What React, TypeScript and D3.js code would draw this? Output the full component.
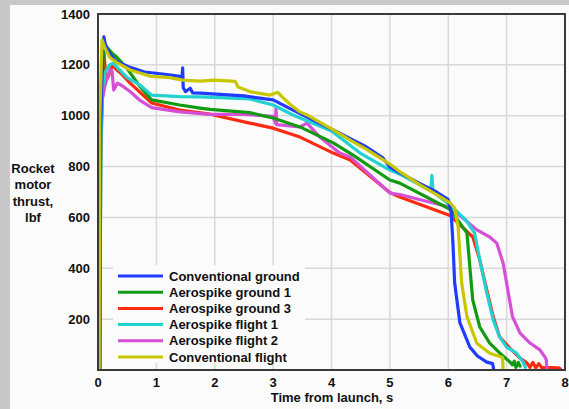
import React from "react";
import * as d3 from "d3";

const W = 569;
const H = 409;

const xTicks = [0, 1, 2, 3, 4, 5, 6, 7, 8];
const yTicks = [200, 400, 600, 800, 1000, 1200, 1400];
const yGrid = [0, 200, 400, 600, 800, 1000, 1200, 1400];

const seriesNames = [
  "Conventional ground",
  "Aerospike ground 1",
  "Aerospike ground 3",
  "Aerospike flight 1",
  "Aerospike flight 2",
  "Conventional flight",
];
const seriesColors = ["#1f3cff", "#139a13", "#ff2a12", "#20d2d2", "#d64fd8", "#c8c800"];

const convGroundT = [0.03, 0.04, 0.08, 0.1, 0.13, 0.2, 0.3, 0.55, 0.8, 1.18, 1.4, 1.44, 1.45, 1.46, 1.5, 1.58, 1.62, 1.75, 2.5, 3.0, 3.34, 4.03, 4.6, 4.88, 5.0, 5.17, 5.5, 5.8, 6.0, 6.05, 6.08, 6.11, 6.2, 6.37, 6.5, 6.66, 6.76, 6.78];
const convGroundV = [0, 900, 1250, 1310, 1275, 1245, 1215, 1190, 1172, 1162, 1155, 1152, 1188, 1110, 1095, 1108, 1090, 1089, 1078, 1062, 1022, 944, 877, 834, 798, 775, 735, 700, 670, 620, 500, 342, 185, 90, 55, 31, 25, 0];

const aeroGround1T = [0.03, 0.05, 0.1, 0.15, 0.24, 0.3, 0.5, 0.7, 0.92, 1.4, 1.75, 1.92, 2.6, 3.0, 3.46, 4.03, 4.37, 5.0, 5.17, 6.03, 6.32, 6.37, 6.42, 6.54, 6.71, 6.88, 7.05, 7.1, 7.13, 7.16, 7.2, 7.23];
const aeroGround1V = [0, 1000, 1290, 1270, 1246, 1235, 1185, 1120, 1062, 1042, 1030, 1025, 1012, 991, 956, 893, 845, 747, 735, 632, 539, 405, 275, 169, 106, 67, 33, 20, 35, 10, 30, 15];

const aeroGround3T = [0.02, 0.04, 0.1, 0.13, 0.17, 0.25, 0.3, 0.4, 0.55, 0.92, 1.4, 1.92, 2.6, 3.0, 3.46, 4.03, 4.32, 5.0, 5.17, 6.03, 6.42, 6.54, 6.66, 6.77, 6.88, 7.05, 7.23, 7.35, 7.4, 7.45, 7.5, 7.55, 7.6, 7.9, 7.92];
const aeroGround3V = [0, 800, 1258, 1160, 1150, 1200, 1185, 1165, 1128, 1050, 1022, 1006, 971, 951, 916, 853, 826, 698, 680, 608, 523, 433, 315, 210, 130, 87, 47, 27, 10, 30, 8, 25, 10, 8, 5];

const aeroFlight1T = [0.03, 0.05, 0.07, 0.12, 0.2, 0.26, 0.35, 0.5, 0.72, 0.92, 1.4, 1.75, 2.6, 3.0, 3.34, 4.0, 4.49, 5.0, 5.17, 5.7, 5.72, 5.74, 6.03, 6.2, 6.3, 6.45, 6.54, 6.66, 6.77, 6.88, 7.0, 7.17, 7.28, 7.32];
const aeroFlight1V = [0, 900, 1100, 1170, 1200, 1207, 1185, 1150, 1120, 1081, 1075, 1074, 1066, 1042, 1003, 940, 853, 786, 770, 705, 765, 700, 649, 612, 590, 539, 433, 303, 197, 130, 90, 66, 33, 10];

const aeroFlight2T = [0.03, 0.05, 0.07, 0.12, 0.2, 0.24, 0.27, 0.33, 0.4, 0.55, 0.72, 0.92, 1.4, 1.92, 2.5, 3.0, 3.04, 3.05, 3.06, 3.46, 3.58, 3.8, 4.14, 4.32, 5.0, 5.17, 6.03, 6.49, 6.71, 6.83, 6.94, 7.02, 7.1, 7.23, 7.4, 7.57, 7.65, 7.68, 7.69];
const aeroFlight2V = [0, 1000, 1060, 1120, 1180, 1175, 1101, 1128, 1120, 1095, 1060, 1032, 1015, 1005, 1005, 998, 970, 1030, 965, 956, 971, 916, 853, 838, 696, 690, 640, 551, 523, 499, 421, 315, 210, 145, 106, 79, 53, 40, 0];

const convFlightT = [0.02, 0.03, 0.07, 0.12, 0.2, 0.3, 0.55, 0.9, 1.23, 1.45, 1.75, 2.0, 2.35, 2.4, 2.6, 2.95, 3.08, 3.15, 3.29, 3.46, 3.58, 4.03, 4.32, 4.6, 5.0, 5.17, 5.5, 5.8, 6.03, 6.11, 6.17, 6.23, 6.32, 6.49, 6.71, 6.88, 6.93, 6.94];
const convFlightV = [0, 1000, 1298, 1265, 1230, 1212, 1180, 1155, 1150, 1140, 1136, 1140, 1135, 1113, 1095, 1081, 1092, 1075, 1045, 1015, 1003, 944, 904, 868, 810, 780, 730, 690, 657, 637, 562, 342, 210, 105, 66, 53, 50, 0];

const seriesT = [convGroundT, aeroGround1T, aeroGround3T, aeroFlight1T, aeroFlight2T, convFlightT];
const seriesV = [convGroundV, aeroGround1V, aeroGround3V, aeroFlight1V, aeroFlight2V, convFlightV];
const drawOrder = [2, 4, 1, 3, 0, 5];

const left = 98, right = 565, top = 14, bottom = 370;
const font = "'Liberation Sans', Arial, Helvetica, sans-serif";

export default function App() {
  const x = d3.scaleLinear().domain([0, 8]).range([left, right]);
  const y = d3.scaleLinear().domain([0, 1400]).range([bottom, top]);
  const line = d3
    .line<[number, number]>()
    .x((d) => x(d[0]))
    .y((d) => y(d[1]));

  return (
    <svg
      width={W}
      height={H}
      style={{ position: "absolute", left: 0, top: 0, display: "block" }}
      fontFamily={font}
    >
      <defs>
        <clipPath id="plotclip">
          <rect x={left} y={top} width={right - left} height={bottom - top} />
        </clipPath>
      </defs>
      <rect x={0} y={0} width={W} height={H} fill="#c8c8c8" />
      <rect x={10} y={5} width={W - 10} height={H - 5} fill="#fbfbfb" />
      {xTicks.map((t) => (
        <line key={"gx" + t} x1={x(t)} x2={x(t)} y1={top} y2={bottom} stroke="#d9d9d9" strokeWidth={1.5} />
      ))}
      {yGrid.map((v) => (
        <line key={"gy" + v} x1={left} x2={right} y1={y(v)} y2={y(v)} stroke="#d9d9d9" strokeWidth={1.5} />
      ))}
      <rect x={113} y={265} width={192} height={98} fill="#fbfbfb" />
      <g clipPath="url(#plotclip)">
        {drawOrder.map((i) => {
          const pts: [number, number][] = seriesT[i].map((t, k) => [t, seriesV[i][k]]);
          return (
            <path
              key={"s" + i}
              d={line(pts) || ""}
              fill="none"
              stroke={seriesColors[i]}
              strokeWidth={3.2}
              strokeLinejoin="round"
              strokeLinecap="round"
            />
          );
        })}
      </g>
      <rect x={left} y={top} width={right - left} height={bottom - top} fill="none" stroke="#3a3a3a" strokeWidth={2} />
      {yTicks.map((v) => (
        <text key={"yt" + v} x={90} y={y(v) + 4.5} textAnchor="end" fontSize={13} fontWeight="bold" fill="#111">
          {v}
        </text>
      ))}
      {xTicks.map((t) => (
        <text key={"xt" + t} x={x(t)} y={387} textAnchor="middle" fontSize={13} fontWeight="bold" fill="#111">
          {t}
        </text>
      ))}
      <text x={332} y={402} textAnchor="middle" fontSize={13} fontWeight="bold" fill="#111">
        Time from launch, s
      </text>
      {["Rocket", "motor", "thrust,", "lbf"].map((s, k) => (
        <text key={"yl" + k} x={33} y={173 + k * 16.4} textAnchor="middle" fontSize={13} fontWeight="bold" fill="#111">
          {s}
        </text>
      ))}
      {seriesNames.map((n, i) => (
        <g key={"lg" + i}>
          <line x1={118} x2={163} y1={276 + i * 16.2} y2={276 + i * 16.2} stroke={seriesColors[i]} strokeWidth={3} />
          <text x={169} y={276 + i * 16.2 + 4.5} fontSize={13} fontWeight="bold" fill="#111">
            {n}
          </text>
        </g>
      ))}
    </svg>
  );
}
